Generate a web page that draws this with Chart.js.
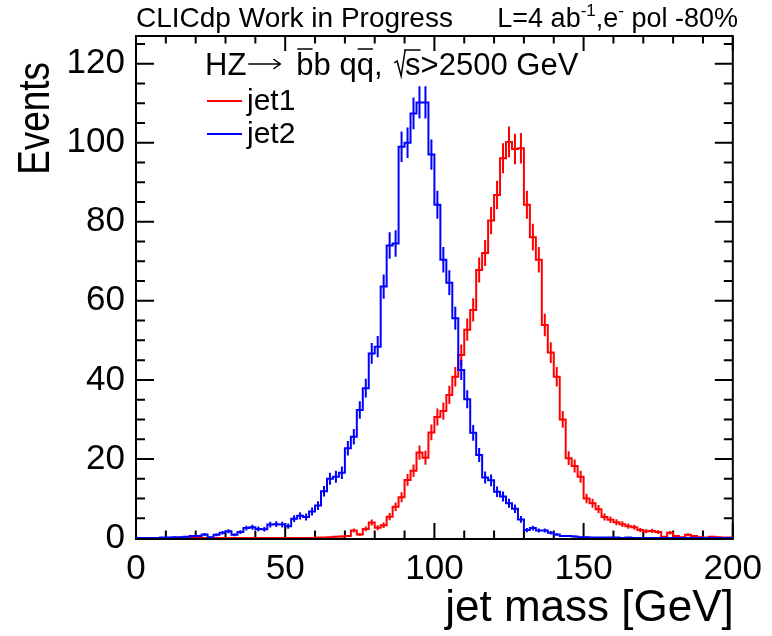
<!DOCTYPE html>
<html><head><meta charset="utf-8">
<script src="https://cdn.jsdelivr.net/npm/chart.js@4.4.0/dist/chart.umd.min.js"></script>
<style>html,body{margin:0;padding:0;background:#fff;} canvas{display:block;}</style>
</head><body>
<canvas id="c" width="772" height="636"></canvas>
<script>
// Histogram binning: 100 bins of 2 GeV from 0 to 200 GeV
const binLow = 0, binWidth = 2;
// jet1 (red) events per bin
const jet1 = [
  0,0,0,0,0,0,0,0,0,0,
  0,0,0,0,0,0,0,0,0,0,
  0,0,0,0,0,0,0,0,0,0,
  0.1,0.1,0.2,0.3,0.4,0.5,1.9,0.9,2.3,3.9,
  2.6,3.2,5.4,7.9,10.3,14.7,17.0,21.6,20.3,26.7,
  30.6,32.1,36.2,40.8,46.3,52.7,57.7,67.8,72.1,80.3,
  86.8,96.1,100.2,98.4,98.6,84.3,76.1,70.4,53.9,46.9,
  40.8,30.0,20.2,18.2,15.5,10.0,8.8,7.3,5.3,4.6,
  4.0,3.5,3.0,2.7,2.0,1.7,1.8,1.5,0.3,1.3,
  0.5,0.2,0.8,0.5,0.2,0.1,0.3,0.2,0.1,0.1
];
// jet2 (blue) events per bin
const jet2 = [
  0,0,0,0,0.1,0.1,0.2,0.2,0.3,0.5,
  0.5,0.9,0.2,0.8,1.3,1.7,0.8,1.5,2.5,2.7,
  2.3,2.2,3.4,3.5,3.4,3.0,4.9,5.6,5.3,6.7,
  8.2,11.8,15.0,15.5,16.5,22.7,25.6,32.4,37.9,46.7,
  48.4,63.6,74.0,74.5,99.0,100.0,107.4,110.2,110.2,97.0,
  84.3,70.4,64.6,55.6,42.5,35.1,26.6,21.0,15.3,14.6,
  11.7,10.5,8.8,7.4,4.7,2.0,2.5,1.9,1.9,1.3,
  0.9,0.5,0.5,0.4,0.2,0.2,0.1,0.1,0.1,0.1,
  0.1,0,0.1,0,0,0,0,0,0,0,
  0,0,0,0,0,0,0,0,0,0
];
const xTicks = [0, 50, 100, 150, 200];
const yTicks = [0, 20, 40, 60, 80, 100, 120];
const xRange = [0, 200];
const yRange = [0, 127];
const ERR_W = 0.15; // per-event weight used for sqrt(sum w^2) error bars

const FONT = '"Liberation Sans", Arial, Helvetica, sans-serif';
const RED = '#ff0000', BLUE = '#0000ff';

function histPoints(vals) {
  const pts = [];
  vals.forEach((v, i) => {
    const lo = binLow + i * binWidth;
    pts.push({x: lo, y: v}, {x: lo + binWidth, y: v});
  });
  return pts;
}

const rootStyle = {
  id: 'rootStyle',
  beforeDatasetsDraw(chart) {
    const {ctx, chartArea: a, scales: {x, y}} = chart;
    ctx.save();
    ctx.strokeStyle = '#000';
    ctx.lineWidth = 2;
    ctx.beginPath();
    for (let v = xRange[0]; v <= xRange[1]; v += 10) {
      const px = x.getPixelForValue(v);
      const len = (v % 50 === 0) ? 15 : 7.5;
      ctx.moveTo(px, a.bottom); ctx.lineTo(px, a.bottom - len);
      ctx.moveTo(px, a.top); ctx.lineTo(px, a.top + len);
    }
    for (let v = 0; v <= 125; v += 5) {
      const py = y.getPixelForValue(v);
      const len = (v % 20 === 0) ? 18 : 9;
      ctx.moveTo(a.left, py); ctx.lineTo(a.left + len, py);
      ctx.moveTo(a.right, py); ctx.lineTo(a.right - len, py);
    }
    ctx.stroke();
    ctx.strokeRect(a.left, a.top, a.right - a.left, a.bottom - a.top + 1);
    ctx.restore();
  },
  afterDatasetDraw(chart, args) {
    const ds = chart.data.datasets[args.index];
    const {ctx, scales: {x, y}} = chart;
    ctx.save();
    ctx.strokeStyle = ds.borderColor;
    ctx.lineWidth = 2;
    ctx.beginPath();
    ds.binValues.forEach((v, i) => {
      if (v <= 0) return;
      const c = binLow + (i + 0.5) * binWidth;
      const e = Math.sqrt(v * ERR_W);
      const px = x.getPixelForValue(c);
      ctx.moveTo(px, y.getPixelForValue(Math.max(0, v - e)));
      ctx.lineTo(px, y.getPixelForValue(v + e));
    });
    ctx.stroke();
    ctx.restore();
  },
  afterDraw(chart) {
    const {ctx, chartArea: a} = chart;
    ctx.save();
    ctx.fillStyle = '#000';
    ctx.strokeStyle = '#000';
    ctx.textBaseline = 'alphabetic';
    // Axis titles
    ctx.font = '44px ' + FONT;
    ctx.textAlign = 'right';
    ctx.fillText('jet mass [GeV]', a.right + 1, 621);
    ctx.save();
    ctx.translate(49, a.top + 26);
    ctx.rotate(-Math.PI / 2);
    ctx.scale(0.82, 1);
    ctx.font = '45px ' + FONT;
    ctx.textAlign = 'right';
    ctx.fillText('Events', 0, 0);
    ctx.restore();

    // Top texts
    ctx.font = '28px ' + FONT;
    ctx.textAlign = 'left';
    ctx.fillText('CLICdp Work in Progress', 136, 27);
    const parts = [
      ['L=4 ab', 27, 0], ['-1', 17, -11], [',e', 27, 0], ['-', 17, -11], [' pol -80%', 27, 0]
    ];
    let total = 0;
    parts.forEach(p => { ctx.font = p[1] + 'px ' + FONT; total += ctx.measureText(p[0]).width; });
    let tx = 738 - total;
    parts.forEach(p => {
      ctx.font = p[1] + 'px ' + FONT;
      ctx.fillText(p[0], tx, 27 + p[2]);
      tx += ctx.measureText(p[0]).width;
    });

    // Legend header: HZ→ b̄b qq̄, √s>2500 GeV
    const hy = 75;
    let hx = 205;
    ctx.font = '31px ' + FONT;
    ctx.lineWidth = 1.5;
    const seg = (t) => { ctx.fillText(t, hx, hy); const w = ctx.measureText(t).width; hx += w; return w; };
    const bar = (x0, w, yy) => { ctx.beginPath(); ctx.moveTo(x0, yy); ctx.lineTo(x0 + w, yy); ctx.stroke(); };
    seg('HZ');
    const ay = hy - 11;
    ctx.beginPath();
    ctx.moveTo(hx + 2, ay); ctx.lineTo(hx + 34, ay);
    ctx.moveTo(hx + 27, ay - 5); ctx.lineTo(hx + 34, ay); ctx.lineTo(hx + 27, ay + 5);
    ctx.stroke();
    hx += 50;
    let x0 = hx; let w = seg('b'); bar(x0 + 1, w - 2, hy - 26);
    seg('b q');
    x0 = hx; w = seg('q'); bar(x0 + 1, w - 2, hy - 26);
    seg(', ');
    hx += 3;
    ctx.beginPath();
    ctx.moveTo(hx, hy - 12); ctx.lineTo(hx + 3, hy - 14); ctx.lineTo(hx + 7, hy + 1); ctx.lineTo(hx + 11, hy - 25);
    ctx.stroke();
    hx += 11;
    x0 = hx; w = seg('s'); bar(x0 - 1, w + 1, hy - 25);
    seg('>2500 GeV');

    // Legend entries
    ctx.lineWidth = 2;
    [[RED, 'jet1', 101], [BLUE, 'jet2', 134]].forEach(([col, lab, ly]) => {
      ctx.strokeStyle = col;
      ctx.beginPath(); ctx.moveTo(207, ly); ctx.lineTo(242, ly); ctx.stroke();
      ctx.font = '30px ' + FONT;
      ctx.fillStyle = '#000';
      ctx.fillText(lab, 247, ly + 9);
    });
    ctx.restore();
  }
};

new Chart(document.getElementById('c'), {
  type: 'line',
  data: {
    datasets: [
      {label: 'jet1', data: histPoints(jet1), binValues: jet1, borderColor: RED, borderWidth: 2, pointRadius: 0, fill: false, order: 2},
      {label: 'jet2', data: histPoints(jet2), binValues: jet2, borderColor: BLUE, borderWidth: 2, pointRadius: 0, fill: false, order: 1}
    ]
  },
  options: {
    responsive: false, animation: false, devicePixelRatio: 1,
    layout: {padding: {top: 36, right: 35, left: 0, bottom: 0}},
    plugins: {legend: {display: false}, tooltip: {enabled: false}, title: {display: false}},
    elements: {line: {tension: 0}},
    scales: {
      x: {
        type: 'linear', min: xRange[0], max: xRange[1],
        afterBuildTicks: s => { s.ticks = xTicks.map(v => ({value: v})); },
        ticks: {font: {family: FONT, size: 35}, color: '#000', padding: 10, maxRotation: 0, autoSkip: false},
        grid: {display: false, drawTicks: false}, border: {display: false},
        afterFit: s => { s.height = 98; }
      },
      y: {
        type: 'linear', min: yRange[0], max: yRange[1],
        afterBuildTicks: s => { s.ticks = yTicks.map(v => ({value: v})); },
        ticks: {font: {family: FONT, size: 35}, color: '#000', padding: 11, autoSkip: false},
        grid: {display: false, drawTicks: false}, border: {display: false},
        afterFit: s => { s.width = 136; }
      }
    }
  },
  plugins: [rootStyle]
});
</script>
</body></html>
